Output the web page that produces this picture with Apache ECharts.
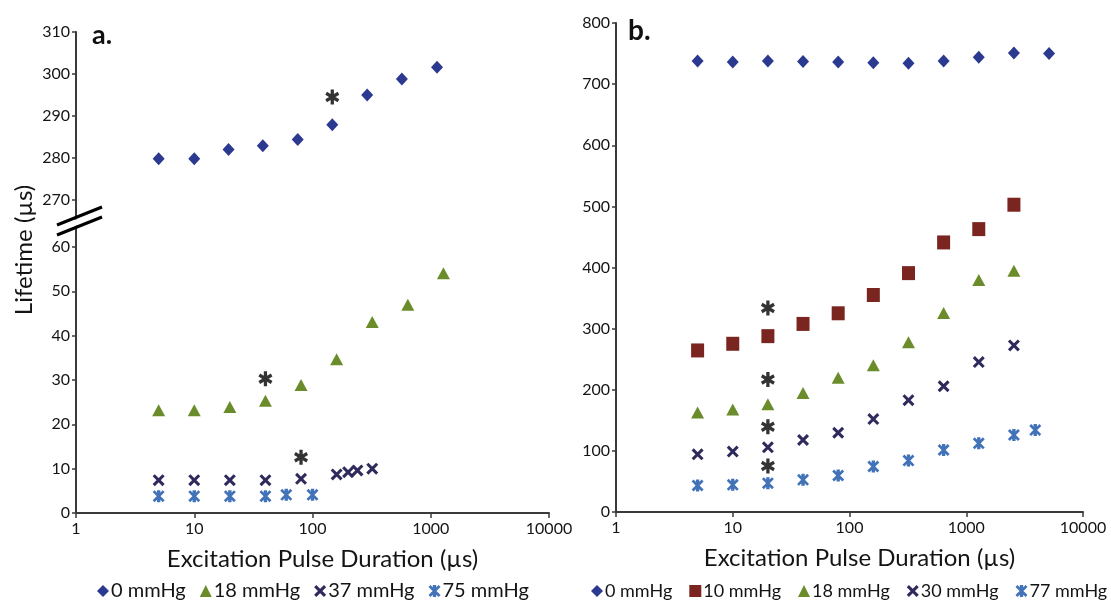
<!DOCTYPE html>
<html>
<head>
<meta charset="utf-8">
<script src="https://cdn.jsdelivr.net/npm/echarts@6.0.0/dist/echarts.min.js"></script>
<style>
html,body{margin:0;padding:0;background:#fff;}
#chart{width:1111px;height:607px;}
</style>
</head>
<body>
<div id="chart"></div>
<script>
// ---------- Data ----------
// Panel a
const aX0   = [5, 10, 19.5, 38, 75, 147, 290, 570, 1130];
const aY0   = [279.8, 279.8, 282.0, 282.9, 284.4, 287.9, 295.0, 298.8, 301.6];
const aX18  = [5, 10, 20, 40, 80, 160, 320, 640, 1280];
const aY18  = [23.2, 23.2, 23.9, 25.3, 28.9, 34.7, 43.1, 47.0, 54.1];
const aX37  = [5, 10, 20, 40, 80, 160, 200, 240, 320];
const aY37  = [7.4, 7.4, 7.4, 7.4, 7.7, 8.7, 9.2, 9.6, 10.0];
const aX75  = [5, 10, 20, 40, 60, 100];
const aY75  = [3.8, 3.8, 3.8, 3.8, 4.1, 4.1];
const aStarTop = [[147, 294.5]];
const aStarBottom = [[40, 30.3], [80, 12.6]];
const aYTop = [270, 310];
const aYBottom = [0, 60];
const aLegend = ['0 mmHg', '18 mmHg', '37 mmHg', '75 mmHg'];

// Panel b
const bX    = [5, 10, 20, 40, 80, 160, 320, 640, 1280, 2560, 5120];
const bY0   = [738, 736, 738, 737, 736, 735, 734, 738, 744, 751, 750];
const bX10  = [5, 10, 20, 40, 80, 160, 320, 640, 1280, 2560];
const bY10  = [264.3, 275.2, 287.7, 307.7, 325.1, 355.0, 390.8, 441.0, 462.8, 502.7];
const bX18  = [5, 10, 20, 40, 80, 160, 320, 640, 1280, 2560];
const bY18  = [162.8, 167.7, 176.4, 194.8, 219.8, 239.9, 277.9, 325.6, 379.4, 394.6];
const bX30  = [5, 10, 20, 40, 80, 160, 320, 640, 1280, 2560];
const bY30  = [94.4, 98.8, 105.8, 117.8, 129.7, 152.0, 182.9, 205.7, 245.3, 272.5];
const bX77  = [5, 10, 20, 40, 80, 160, 320, 640, 1280, 2560, 3900];
const bY77  = [43.4, 44.5, 47.2, 52.6, 59.7, 74.4, 84.1, 101.5, 112.3, 125.9, 134.0];
const bStars = [[20, 333.8], [20, 216.6], [20, 139.5], [20, 75.4]];
const bY = [0, 800];
const bLegend = ['0 mmHg', '10 mmHg', '18 mmHg', '30 mmHg', '77 mmHg'];

const xRange = [1, 10000];
const xTitle = 'Excitation Pulse Duration (\u00b5s)';
const yTitle = 'Lifetime (\u00b5s)';

// ---------- Styling ----------
const FONT = 'Lato';
const C = {
  diamond: '#2b3990',
  tri: '#6b8c2a',
  sq: '#7b2521',
  x: '#2e2a5c',
  star: '#4273b8',
  text: '#141414',
  axis: '#3a3a3a'
};
const SYM_X = 'path://M-5,-3.2 L-3.2,-5 L5,3.2 L3.2,5 Z M3.2,-5 L5,-3.2 L-3.2,5 L-5,3.2 Z';
const SYM_STAR = 'path://M-5,-3.4 L-3.4,-5 L5,3.4 L3.4,5 Z M3.4,-5 L5,-3.4 L-3.4,5 L-5,3.4 Z M-1.4,-5 L1.4,-5 L1.4,5 L-1.4,5 Z';
// six-armed bold asterisk
const SYM_AST = 'path://M-2.3,-10 L2.3,-10 L2.3,10 L-2.3,10 Z ' +
  'M9.81,3.01 L7.51,6.99 L-9.81,-3.01 L-7.51,-6.99 Z ' +
  'M-7.51,6.99 L-9.81,3.01 L7.51,-6.99 L9.81,-3.01 Z';

const zip = (xs, ys) => xs.map((x, i) => [x, ys[i]]);

// layout
const A = {left: 76, right: 549, topT: 32, botT: 200, topB: 247, botB: 513};
const B = {left: 616, right: 1083, top: 23, bot: 512};

function xAxisCfg(grid, show) {
  return {
    type: 'log', logBase: 10, gridIndex: grid, min: xRange[0], max: xRange[1],
    show: show,
    axisLine: {show: true, onZero: false, lineStyle: {color: C.axis, width: 2}},
    axisTick: {show: true, length: 5, lineStyle: {color: C.axis, width: 1.5}},
    minorTick: {show: false},
    splitLine: {show: false},
    axisLabel: {
      color: C.text, fontFamily: FONT, fontSize: 16, margin: 8,
      formatter: v => String(Math.round(v))
    },
    name: show ? xTitle : '',
    nameLocation: 'middle', nameGap: 34,
    nameTextStyle: {fontFamily: FONT, fontSize: 24, color: C.text, padding: [0, 0, 0, 20]}
  };
}
function yAxisCfg(grid, range, interval) {
  return {
    type: 'value', gridIndex: grid, min: range[0], max: range[1], interval: interval,
    axisLine: {show: true, lineStyle: {color: C.axis, width: 2}},
    axisTick: {show: true, length: 4, lineStyle: {color: C.axis, width: 1.5}},
    splitLine: {show: false},
    axisLabel: {color: C.text, fontFamily: FONT, fontSize: 16, margin: 6}
  };
}
function scatter(name, data, xi, yi, symbol, size, color) {
  return {
    type: 'scatter', name: name, data: data, xAxisIndex: xi, yAxisIndex: yi,
    symbol: symbol, symbolSize: size, itemStyle: {color: color, opacity: 1},
    emphasis: {disabled: true}, z: 3
  };
}
function stars(data, xi, yi) {
  return {
    type: 'scatter', name: '', data: data, xAxisIndex: xi, yAxisIndex: yi,
    symbol: SYM_AST, symbolSize: [14, 15], itemStyle: {color: '#000'},
    emphasis: {disabled: true}, z: 4, legendHoverLink: false
  };
}

const chart = echarts.init(document.getElementById('chart'), null, {renderer: 'canvas'});
chart.setOption({
  animation: false,
  backgroundColor: '#ffffff',
  grid: [
    {left: A.left, width: A.right - A.left, top: A.topT, height: A.botT - A.topT},
    {left: A.left, width: A.right - A.left, top: A.topB, height: A.botB - A.topB},
    {left: B.left, width: B.right - B.left, top: B.top, height: B.bot - B.top}
  ],
  xAxis: [xAxisCfg(0, false), xAxisCfg(1, true), xAxisCfg(2, true)],
  yAxis: [yAxisCfg(0, aYTop, 10), yAxisCfg(1, aYBottom, 10), yAxisCfg(2, bY, 100)],
  legend: [
    {
      data: aLegend, left: 97, top: 581, width: 480, padding: 0,
      itemWidth: 12, itemHeight: 12, itemGap: 14,
      selectedMode: false,
      textStyle: {fontFamily: FONT, fontSize: 20, color: C.text, padding: [0, 0, 0, -3]}
    },
    {
      data: bLegend, left: 591, top: 582, width: 520, padding: 0,
      itemWidth: 12, itemHeight: 12, itemGap: 17,
      selectedMode: false,
      textStyle: {fontFamily: FONT, fontSize: 18, color: C.text, padding: [0, 0, 0, -3]}
    }
  ],
  graphic: [
    {type: 'line', shape: {x1: A.left, y1: A.botT, x2: A.left, y2: A.topB}, style: {stroke: C.axis, lineWidth: 2}},
    {type: 'polygon', shape: {points: [[57, 227], [102, 209], [102, 216], [57, 233]]}, style: {fill: '#fff'}},
    {type: 'line', shape: {x1: 57, y1: 225, x2: 102, y2: 207}, style: {stroke: '#000', lineWidth: 3}},
    {type: 'line', shape: {x1: 57, y1: 235, x2: 102, y2: 217}, style: {stroke: '#000', lineWidth: 3}},
    {type: 'text', x: 24, y: 250, rotation: Math.PI / 2,
      style: {text: yTitle, font: '24px ' + FONT, fill: C.text, align: 'center', verticalAlign: 'middle'}},
    {type: 'text', x: 92, y: 35,
      style: {text: 'a.', font: 'bold 27px ' + FONT, fill: '#111', align: 'left', verticalAlign: 'middle'}},
    {type: 'text', x: 628, y: 31,
      style: {text: 'b.', font: 'bold 28px ' + FONT, fill: '#111', align: 'left', verticalAlign: 'middle'}}
  ],
  series: [
    scatter('0 mmHg', zip(aX0, aY0), 0, 0, 'diamond', [12, 13], C.diamond),
    scatter('18 mmHg', zip(aX18, aY18), 1, 1, 'triangle', [13, 12], C.tri),
    scatter('37 mmHg', zip(aX37, aY37), 1, 1, SYM_X, [12, 12], C.x),
    scatter('75 mmHg', zip(aX75, aY75), 1, 1, SYM_STAR, [12, 12], C.star),
    stars(aStarTop, 0, 0),
    stars(aStarBottom, 1, 1),
    scatter('0 mmHg', zip(bX, bY0), 2, 2, 'diamond', [12, 13], C.diamond),
    scatter('10 mmHg', zip(bX10, bY10), 2, 2, 'rect', [13, 14], C.sq),
    scatter('18 mmHg', zip(bX18, bY18), 2, 2, 'triangle', [13, 12], C.tri),
    scatter('30 mmHg', zip(bX30, bY30), 2, 2, SYM_X, [12, 12], C.x),
    scatter('77 mmHg', zip(bX77, bY77), 2, 2, SYM_STAR, [12, 12], C.star),
    stars(bStars, 2, 2)
  ]
});
</script>
</body>
</html>
